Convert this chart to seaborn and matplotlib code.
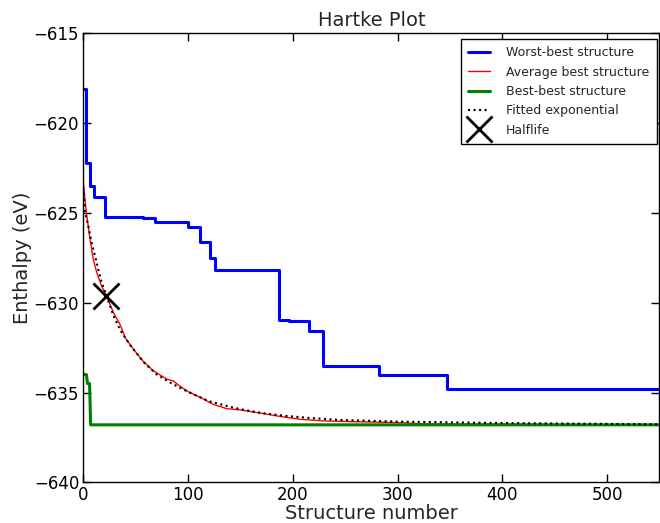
import numpy as np
import pandas as pd
import matplotlib
matplotlib.use("Agg")
import matplotlib.pyplot as plt
import seaborn as sns

# ---- data ----
worst_x = [0, 3, 6, 10, 21, 57, 68, 100, 111, 121, 126, 187, 196, 215, 229, 282, 347, 550]
worst_y = [-618.1, -622.2, -623.5, -624.1, -625.2, -625.3, -625.5, -625.8, -626.6,
           -627.5, -628.2, -630.95, -631.0, -631.6, -633.5, -634.0, -634.8, -634.8]

avg_x = [0, 1, 3, 6, 9.6, 12.8, 17.6, 22.4, 28.7, 35, 40, 48, 57, 67, 80, 86, 92,
         100, 112, 124, 137, 150, 166, 191, 207, 229, 255, 303, 325, 550]
avg_y = [-623.3, -623.9, -625.0, -626.3, -627.6, -628.3, -629.1, -629.65, -630.55,
         -631.2, -631.95, -632.6, -633.25, -633.8, -634.26, -634.36, -634.64,
         -634.95, -635.28, -635.66, -635.9, -635.97, -636.12, -636.36, -636.49,
         -636.58, -636.62, -636.68, -636.75, -636.8]

best_x = [0, 3, 4, 6, 7, 550]
best_y = [-634.0, -634.0, -634.5, -634.5, -636.8, -636.8]

fit_x = [0, 1.6, 4.8, 8, 11.2, 14.3, 17.6, 21.7, 28.7, 35, 44.6, 57.4, 70, 83, 92,
         105, 121, 143, 159, 175, 194.5, 217, 245, 277, 300, 400, 550]
fit_y = [-623.6, -624.97, -625.73, -626.65, -627.4, -628.14, -628.88, -629.53,
         -630.7, -631.5, -632.35, -633.3, -633.99, -634.45, -634.73, -635.1,
         -635.5, -635.84, -636.03, -636.18, -636.31, -636.42, -636.53, -636.58,
         -636.62, -636.7, -636.77]

half_x = [21.8]
half_y = [-629.65]

x_ticks = [0, 100, 200, 300, 400, 500]
y_ticks = [-640, -635, -630, -625, -620, -615]

# ---- style ----
sns.set_style("ticks")
plt.rcParams['font.family'] = ['DejaVu Sans']
plt.rcParams['axes.unicode_minus'] = True

fig = plt.figure(figsize=(6.6, 5.23), dpi=100)
ax = fig.add_axes([0.1262, 0.0778, 0.873, 0.8585])

sns.lineplot(x=worst_x, y=worst_y, ax=ax, color='blue', lw=2.2,
             drawstyle='steps-post', label='Worst-best structure', sort=False, estimator=None)
sns.lineplot(x=avg_x, y=avg_y, ax=ax, color='red', lw=1.0,
             label='Average best structure', sort=False, estimator=None)
sns.lineplot(x=best_x, y=best_y, ax=ax, color='green', lw=2.2,
             label='Best-best structure', sort=False, estimator=None)
sns.lineplot(x=fit_x, y=fit_y, ax=ax, color='black', lw=1.5, linestyle=':',
             label='Fitted exponential', sort=False, estimator=None)
ax.plot(half_x, half_y, color='black', linestyle='none', marker='x',
        markersize=19, markeredgewidth=2, label='Halflife')

ax.set_xlim(0, 550)
ax.set_ylim(-640, -615)
ax.set_xticks(x_ticks)
ax.set_yticks(y_ticks)
ax.tick_params(direction='in', top=True, right=True, length=6, width=1,
               labelsize=12, colors='black', pad=3)
for s in ax.spines.values():
    s.set_color('black')
    s.set_linewidth(1)
    s.set_visible(True)

ax.set_title('Hartke Plot', fontsize=14, pad=5)
ax.set_xlabel('Structure number', fontsize=14, labelpad=0)
ax.set_ylabel('Enthalpy (eV)', fontsize=14, labelpad=1)

leg = ax.legend(loc='upper right', bbox_to_anchor=(656.7 / 660, 1 - 39 / 523),
                bbox_transform=fig.transFigure, borderaxespad=0,
                fontsize=9, frameon=True, fancybox=False,
                framealpha=1, edgecolor='black', handlelength=1.75,
                handletextpad=1.25, labelspacing=0.5, borderpad=0.6)
leg.get_frame().set_linewidth(1)

fig.savefig('out.png', dpi=100)
